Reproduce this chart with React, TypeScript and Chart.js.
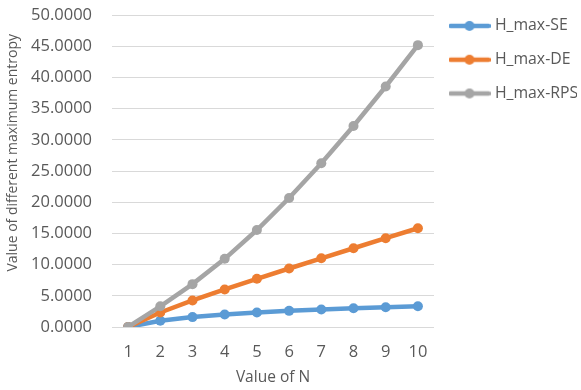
import React, { useEffect, useRef } from "react";
import { Chart, registerables } from "chart.js";

Chart.register(...registerables);

const categories = ["1", "2", "3", "4", "5", "6", "7", "8", "9", "10"];
const seValues = [0, 1.0, 1.585, 2.0, 2.322, 2.585, 2.807, 3.0, 3.17, 3.322];
const deValues = [0, 2.322, 4.248, 6.022, 7.721, 9.377, 11.008, 12.622, 14.227, 15.825];
const rpsValues = [0, 3.322, 6.87, 10.928, 15.541, 20.669, 26.25, 32.223, 38.542, 45.17];
const seriesNames = ["H_max-SE", "H_max-DE", "H_max-RPS"];
const seriesColors = ["#5B9BD5", "#ED7D31", "#A5A5A5"];

const FONT = "'Open Sans', sans-serif";
const TEXT = "#595959";

function legendIcon(color: string): HTMLCanvasElement {
  const c = document.createElement("canvas");
  c.width = 42;
  c.height = 12;
  const ctx = c.getContext("2d")!;
  ctx.strokeStyle = color;
  ctx.lineWidth = 4.5;
  ctx.lineCap = "round";
  ctx.beginPath();
  ctx.moveTo(2, 6);
  ctx.lineTo(40, 6);
  ctx.stroke();
  ctx.fillStyle = color;
  ctx.beginPath();
  ctx.arc(21, 6, 5, 0, Math.PI * 2);
  ctx.fill();
  return c;
}

export default function App() {
  const ref = useRef<HTMLCanvasElement>(null);
  useEffect(() => {
    if (!ref.current) return;
    const icons = seriesColors.map(legendIcon);
    const series = [seValues, deValues, rpsValues];
    const chart = new Chart(ref.current, {
      type: "line",
      data: {
        labels: categories,
        datasets: series.map((vals, i) => ({
          label: seriesNames[i],
          data: vals,
          borderColor: seriesColors[i],
          backgroundColor: seriesColors[i],
          pointBackgroundColor: seriesColors[i],
          pointBorderColor: seriesColors[i],
          borderWidth: 4.5,
          pointRadius: 5,
          pointBorderWidth: 0,
          tension: 0,
          order: 3 - i,
        })),
      },
      options: {
        animation: false,
        responsive: true,
        maintainAspectRatio: false,
        layout: { padding: { top: 0, right: 4, bottom: 3, left: 5 } },
        plugins: {
          tooltip: { enabled: false },
          legend: {
            position: "right",
            align: "start",
            labels: {
              usePointStyle: true,
              pointStyleWidth: 35,
              padding: 18,
              color: TEXT,
              font: { family: FONT, size: 15.8 },
              generateLabels: (ch: any) => {
                const base = Chart.defaults.plugins.legend.labels.generateLabels(ch);
                return base
                  .slice()
                  .sort((a: any, b: any) => a.datasetIndex - b.datasetIndex)
                  .map((it: any) => ({ ...it, pointStyle: icons[it.datasetIndex] }));
              },
            },
          },
        },
        scales: {
          x: {
            offset: true,
            grid: { display: false, drawTicks: false },
            border: { display: false },
            ticks: { color: TEXT, font: { family: FONT, size: 16.5 }, padding: 15 },
            title: {
              display: true,
              text: "Value of N",
              color: TEXT,
              font: { family: FONT, size: 15.5 },
              padding: { top: 5, bottom: 0 },
            },
            afterFit: (s: any) => {
              s.height = 60;
              s.paddingLeft = 0;
              s.paddingRight = 0;
            },
          },
          y: {
            min: 0,
            max: 50,
            ticks: {
              stepSize: 5,
              color: TEXT,
              font: { family: FONT, size: 16.5 },
              padding: 20,
              callback: (v: any) => Number(v).toFixed(4),
            },
            grid: { color: "#D9D9D9", lineWidth: 1, drawTicks: false },
            border: { display: false },
            title: {
              display: true,
              text: "          Value of different maximum entropy",
              color: TEXT,
              font: { family: FONT, size: 14 },
              padding: { top: 0, bottom: 6 },
            },
            afterFit: (s: any) => {
              s.width = 107;
              s.paddingTop = 15;
              s.paddingBottom = 0;
            },
          },
        },
      },
    });
    return () => chart.destroy();
  }, []);
  return (
    <div style={{ position: "fixed", left: 0, top: 0, width: 581, height: 390, background: "#fff" }}>
      <canvas ref={ref} />
    </div>
  );
}
